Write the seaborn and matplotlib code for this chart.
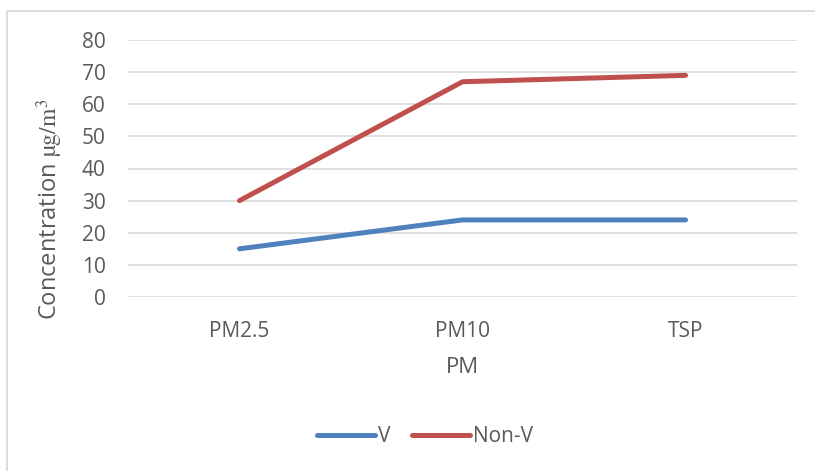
import matplotlib
matplotlib.use("Agg")
import matplotlib.pyplot as plt
import seaborn as sns
import pandas as pd
from matplotlib.patches import Rectangle

# Particulate-matter size classes and mean concentrations (µg/m³)
categories = ["PM2.5", "PM10", "TSP"]
v_values = [15, 24, 24]
nonv_values = [30, 67, 69]
series_names = ["V", "Non-V"]
y_ticks = [0, 10, 20, 30, 40, 50, 60, 70, 80]

df = pd.DataFrame({
    "PM": categories * 2,
    "value": v_values + nonv_values,
    "series": [series_names[0]] * 3 + [series_names[1]] * 3,
})

sns.set_style("white")
plt.rcParams["font.family"] = ["Open Sans", "DejaVu Sans"]
plt.rcParams["mathtext.fontset"] = "stix"

text_color = "#595959"
grid_color = "#D9D9D9"
palette = {"V": "#4F81BD", "Non-V": "#C0504D"}
line_w = 3.6

W, H = 815, 471
fig = plt.figure(figsize=(W / 100, H / 100), dpi=100)
fig.patch.set_facecolor("white")

# chart-area frame
fig.patches.append(Rectangle((7 / W, -0.1), 1.2, 1 - 10.5 / H + 0.1,
                             transform=fig.transFigure, fill=False,
                             edgecolor=grid_color, linewidth=1.3))

ax = fig.add_axes([128 / W, 1 - 297 / H, 669 / W, 257 / H])
sns.lineplot(data=df, x="PM", y="value", hue="series", palette=palette,
             linewidth=line_w, sort=False, ax=ax, legend=False,
             solid_capstyle="round")

ax.set_xlim(-0.5, len(categories) - 0.5)
ax.set_ylim(0, 80)
ax.set_yticks(y_ticks)
ax.yaxis.grid(True, color=grid_color, linewidth=1.2)
ax.set_axisbelow(True)
for s in ax.spines.values():
    s.set_visible(False)
ax.tick_params(axis="both", length=0, labelsize=15, colors=text_color)
ax.tick_params(axis="x", pad=17)
ax.tick_params(axis="y", pad=16)

ax.set_xlabel("PM", fontsize=16, color=text_color)
ax.xaxis.set_label_coords(0.5, -0.235)
ax.set_ylabel(r"Concentration $\mathrm{µg/m^{3}}$", fontsize=17, color=text_color)
ax.yaxis.set_label_coords(-0.094, 0.342)

handles = [plt.Line2D([], [], color=palette[n], linewidth=line_w,
                      solid_capstyle="round") for n in series_names]
fig.legend(handles, series_names, loc="center",
           bbox_to_anchor=(425 / W, 1 - 437 / H), ncol=2, frameon=False,
           fontsize=15, labelcolor=text_color, handlelength=2.8,
           handletextpad=0.15, columnspacing=1.0)

fig.savefig("out.png", dpi=100, facecolor="white")
